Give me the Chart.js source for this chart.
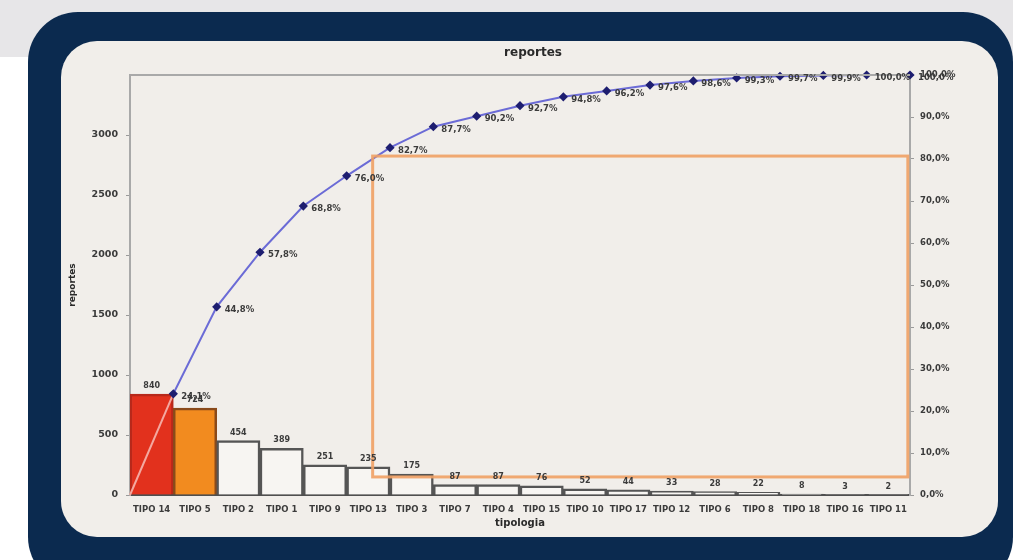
<!DOCTYPE html>
<html>
<head>
<meta charset="utf-8">
<script src="https://cdn.jsdelivr.net/npm/chart.js@4.4.1/dist/chart.umd.min.js"></script>
<style>
  html, body { margin: 0; padding: 0; }
  body { width: 1013px; height: 560px; overflow: hidden; background: #ffffff; position: relative; }
  .strip { position: absolute; left: 0; top: 0; width: 1013px; height: 57px; background: #e7e6e8; }
  .frame { position: absolute; left: 28px; top: 12px; width: 985px; height: 575px; background: #0b2a4f; border-radius: 50px; }
  .panel { position: absolute; left: 61px; top: 41px; width: 937px; height: 496px; background: #f1eeea; border-radius: 36px; }
  .panel canvas { position: absolute; left: 0; top: 0; }
</style>
</head>
<body>
<div class="strip"></div>
<div class="frame"></div>
<div class="panel"><canvas id="pareto" width="937" height="496"></canvas></div>

<script>
// --- data ---
const tipos = ['TIPO 14', 'TIPO 5', 'TIPO 2', 'TIPO 1', 'TIPO 9', 'TIPO 13', 'TIPO 3', 'TIPO 7', 'TIPO 4',
               'TIPO 15', 'TIPO 10', 'TIPO 17', 'TIPO 12', 'TIPO 6', 'TIPO 8', 'TIPO 18', 'TIPO 16', 'TIPO 11'];
const reportes = [840, 724, 454, 389, 251, 235, 175, 87, 87, 76, 52, 44, 33, 28, 22, 8, 3, 2];
const acumulado = [24.1, 44.8, 57.8, 68.8, 76.0, 82.7, 87.7, 90.2, 92.7, 94.8, 96.2, 97.6, 98.6, 99.3, 99.7, 99.9, 100.0, 100.0];
const leftTicks = [0, 500, 1000, 1500, 2000, 2500, 3000];

// orange highlight box drawn over the chart (category position / percent)
const boxX = [5.1, 17.45];
const boxPct = [4.3, 80.7];

const FONT = '"DejaVu Sans", sans-serif';
const TEXT = '#3b3b3b';

// bar colours: the two biggest are highlighted
const barFill = reportes.map((v, i) => i === 0 ? '#e2311d' : i === 1 ? '#f28b1f' : '#f7f5f2');
const barLine = reportes.map((v, i) => i === 0 ? '#b8281a' : i === 1 ? '#8a4a1a' : '#555555');

// line starts at the origin and each point sits on the right edge of its bar
const linePoints = [{ x: -0.5, y: 0 }].concat(acumulado.map((p, i) => ({ x: i + 0.5, y: p })));

const fmtPct = v => v.toFixed(1).replace('.', ',') + '%';

const decor = {
  id: 'decor',
  afterDatasetsDraw(chart) {
    const { ctx, chartArea: a, scales } = chart;
    ctx.save();

    // highlight box
    ctx.strokeStyle = 'rgba(240,160,100,0.9)';
    ctx.lineWidth = 3;
    const bx0 = scales.x2.getPixelForValue(boxX[0]);
    const bx1 = scales.x2.getPixelForValue(boxX[1]);
    const by0 = scales.y1.getPixelForValue(boxPct[1]);
    const by1 = scales.y1.getPixelForValue(boxPct[0]);
    ctx.strokeRect(bx0, by0, bx1 - bx0, by1 - by0);

    // top frame of the plot
    ctx.strokeStyle = '#a9a9a9';
    ctx.lineWidth = 2;
    ctx.beginPath();
    ctx.moveTo(a.left, a.top);
    ctx.lineTo(a.right, a.top);
    ctx.stroke();

    // bar value labels
    ctx.fillStyle = TEXT;
    ctx.font = 'bold 8px ' + FONT;
    ctx.textAlign = 'center';
    ctx.textBaseline = 'middle';
    chart.getDatasetMeta(1).data.forEach((bar, i) => {
      ctx.fillText(String(reportes[i]), bar.x, bar.y - 8);
    });

    // cumulative percent labels, right of each point
    ctx.font = 'bold 8.5px ' + FONT;
    ctx.textAlign = 'left';
    const pts = chart.getDatasetMeta(0).data;
    pts.forEach((pt, i) => {
      if (i === 0) return;
      ctx.fillText(fmtPct(acumulado[i - 1]), pt.x + 8, pt.y + 3);
    });

    // title
    ctx.font = 'bold 12px ' + FONT;
    ctx.textAlign = 'center';
    ctx.fillStyle = '#2a2a2a';
    ctx.fillText('reportes', 472, 12);
    ctx.restore();
  }
};

new Chart(document.getElementById('pareto'), {
  data: {
    labels: tipos,
    datasets: [
      {
        type: 'line',
        order: 0,
        xAxisID: 'x2',
        yAxisID: 'y1',
        data: linePoints,
        borderColor: '#6b6bd6',
        borderWidth: 2,
        pointRadius: linePoints.map((p, i) => i === 0 ? 0 : 3.2),
        pointStyle: 'rectRot',
        pointBackgroundColor: '#1e1e70',
        pointBorderColor: '#1e1e70',
        segment: { borderColor: c => c.p0DataIndex === 0 ? '#f4a8a0' : undefined },
        tension: 0,
        clip: false
      },
      {
        type: 'bar',
        order: 1,
        xAxisID: 'x',
        yAxisID: 'y',
        data: reportes,
        backgroundColor: barFill,
        borderColor: barLine,
        borderWidth: { top: 2.5, left: 2.5, right: 2.5, bottom: 0 },
        borderSkipped: 'bottom',
        grouped: false,
        categoryPercentage: 1,
        barPercentage: 1
      }
    ]
  },
  options: {
    responsive: false,
    animation: false,
    events: [],
    layout: { padding: { top: 34, left: 0, right: 0, bottom: 0 } },
    plugins: { legend: { display: false }, tooltip: { enabled: false }, title: { display: false } },
    scales: {
      x: {
        type: 'category',
        offset: true,
        grid: { display: false },
        border: { display: true, color: '#4f4f4f', width: 2 },
        ticks: { color: TEXT, font: { family: FONT, size: 8.5, weight: 'bold' }, padding: 2, maxRotation: 0, autoSkip: false },
        title: { display: true, text: 'tipologia', color: '#2a2a2a', font: { family: FONT, size: 10, weight: 'bold' }, padding: { top: 0, bottom: 8 } },
        afterFit: s => { s.height = 42; }
      },
      x2: { type: 'linear', display: false, min: -0.5, max: tipos.length - 0.5 },
      y: {
        position: 'left',
        min: 0,
        max: 3500,
        afterBuildTicks: s => { s.ticks = leftTicks.map(v => ({ value: v })); },
        grid: { drawOnChartArea: false, tickLength: 4, color: '#9a9a9a' },
        border: { display: true, color: '#a9a9a9', width: 2 },
        ticks: { color: TEXT, font: { family: FONT, size: 9.5, weight: 'bold' }, padding: 8, callback: v => String(v) },
        title: { display: true, text: 'reportes', color: '#2a2a2a', font: { family: FONT, size: 9, weight: 'bold' }, padding: { top: 6, bottom: 0 } },
        afterFit: s => { s.width = 69; }
      },
      y1: {
        position: 'right',
        min: 0,
        max: 100,
        grid: { drawOnChartArea: false, tickLength: 4, color: '#9a9a9a' },
        border: { display: true, color: '#a9a9a9', width: 2 },
        ticks: { stepSize: 10, color: TEXT, font: { family: FONT, size: 8.5, weight: 'bold' }, padding: 6, callback: v => fmtPct(v) },
        afterFit: s => { s.width = 88; }
      }
    }
  },
  plugins: [decor]
});
</script>
</body>
</html>
